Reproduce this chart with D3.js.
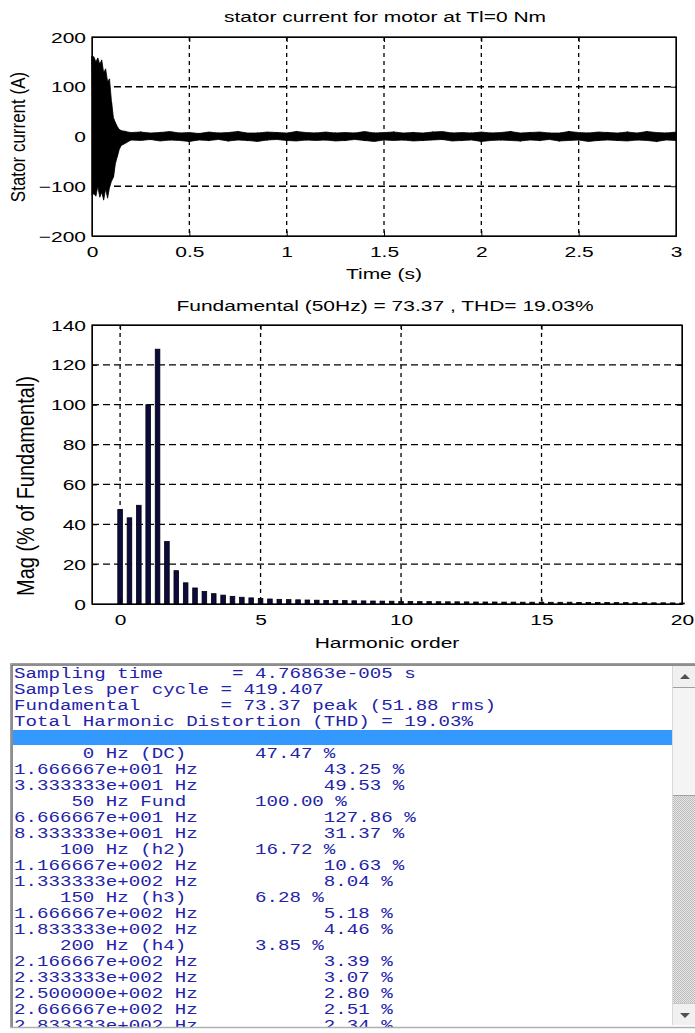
<!DOCTYPE html>
<html><head><meta charset="utf-8">
<script src="https://cdn.jsdelivr.net/npm/d3@7"></script>
<style>body{margin:0;background:#fff}svg{display:block}</style>
</head><body>
<svg id="c" width="695" height="1033"></svg>
<script>
// ---------------- DATA ----------------
const topTitle = "stator current for motor at Tl=0 Nm";
const topXLabel = "Time (s)";
const topYLabel = "Stator current (A)";
const timeTicks = [0, 0.5, 1, 1.5, 2, 2.5, 3];
const currentTicks = [-200, -100, 0, 100, 200];

// start-up transient envelope (s, A)
const transientTime  = [0, 0.01, 0.02, 0.03, 0.04, 0.05, 0.06, 0.07, 0.08, 0.09, 0.10, 0.11, 0.12, 0.13, 0.14, 0.15, 0.17];
const transientUpper = [162, 160, 150, 158, 145, 154, 128, 136, 110, 116, 70, 38, 28, 20, 14, 12, 10];
const transientLower = [-118, -115, -120, -100, -122, -112, -128, -105, -124, -102, -90, -82, -55, -40, -26, -18, -14];
// steady-state envelope, sampled every 0.05 s from 0.2 s
const steadyStart = 0.2, steadyStep = 0.05;
const steadyUpper = [8,9,7,8,10,7,8,6,9,7, 8,10,7,7,9,8,7,10,8,7, 9,7,8,7,10,7,8,9,7,8,
                     7,9,10,7,8,7,9,7,8,10, 7,8,9,7,7,10,8,7,9,8, 7,9,7,10,8,7,9];
const steadyLower = [-7,-8,-6,-9,-7,-8,-10,-7,-8,-6, -9,-7,-8,-10,-7,-6,-8,-9,-7,-8,
                     -7,-9,-8,-6,-8,-10,-7,-8,-7,-9, -8,-7,-6,-9,-8,-7,-10,-8,-7,-8,
                     -9,-7,-8,-6,-9,-8,-7,-10,-8,-7, -8,-9,-7,-8,-10,-7,-8];

const midTitle = "Fundamental (50Hz) = 73.37 , THD= 19.03%";
const midXLabel = "Harmonic order";
const midYLabel = "Mag (% of Fundamental)";
const orderTicks = [0, 5, 10, 15, 20];
const magTicks = [0, 20, 40, 60, 80, 100, 120, 140];
const harmonicStep = 1 / 3; // 16.67 Hz resolution / 50 Hz
const harmonicMag = [47.47, 43.25, 49.53, 100.00, 127.86, 31.37, 16.72, 10.63, 8.04, 6.28,
                     5.18, 4.46, 3.85, 3.39, 3.07, 2.80, 2.51, 2.34, 2.2, 2.1,
                     2.0, 1.9, 1.8, 1.75, 1.7, 1.6, 1.55, 1.5, 1.45, 1.4,
                     1.3, 1.25, 1.2, 1.2, 1.15, 1.1, 1.1, 1.05, 1.0, 1.0,
                     1.0, 0.95, 0.95, 0.9, 0.9, 0.9, 0.85, 0.85, 0.9, 0.8,
                     0.8, 0.8, 0.75, 0.7, 0.7, 0.65, 0.65, 0.6, 0.6, 0.55, 0.5];

const reportLines = [
  "Sampling time      = 4.76863e-005 s",
  "Samples per cycle = 419.407",
  "Fundamental       = 73.37 peak (51.88 rms)",
  "Total Harmonic Distortion (THD) = 19.03%",
  "",
  "      0 Hz (DC)      47.47 %",
  "1.666667e+001 Hz           43.25 %",
  "3.333333e+001 Hz           49.53 %",
  "     50 Hz Fund      100.00 %",
  "6.666667e+001 Hz           127.86 %",
  "8.333333e+001 Hz           31.37 %",
  "    100 Hz (h2)      16.72 %",
  "1.166667e+002 Hz           10.63 %",
  "1.333333e+002 Hz           8.04 %",
  "    150 Hz (h3)      6.28 %",
  "1.666667e+002 Hz           5.18 %",
  "1.833333e+002 Hz           4.46 %",
  "    200 Hz (h4)      3.85 %",
  "2.166667e+002 Hz           3.39 %",
  "2.333333e+002 Hz           3.07 %",
  "2.500000e+002 Hz           2.80 %",
  "2.666667e+002 Hz           2.51 %",
  "2.833333e+002 Hz           2.34 %"
];
const highlightLine = 4;

// ---------------- DRAW ----------------
const svg = d3.select("#c");
svg.append("rect").attr("width", 695).attr("height", 1033).attr("fill", "#fff");
const FONT = "'Liberation Sans', Arial, sans-serif";
const SX = 1.4;

function label(g, x, y, str, size, sx, anchor, rot) {
  return g.append("text")
    .attr("transform", `translate(${x},${y}) scale(${sx},1)` + (rot ? ` rotate(${rot})` : ""))
    .attr("text-anchor", anchor || "middle")
    .attr("font-family", FONT).attr("font-size", size).attr("fill", "#000")
    .text(str);
}

function panel(box, x, y, xTicks, yTicks) {
  const g = svg.append("g");
  const gridX = xTicks.filter(v => x(v) > box.l + 1 && x(v) < box.r - 1);
  const gridY = yTicks.filter(v => y(v) > box.t + 1 && y(v) < box.b - 1);
  g.selectAll(".gx").data(gridX).join("line")
    .attr("x1", d => x(d)).attr("x2", d => x(d)).attr("y1", box.t).attr("y2", box.b)
    .attr("stroke", "#000").attr("stroke-width", 1.3).attr("stroke-dasharray", "4,4");
  g.selectAll(".gy").data(gridY).join("line")
    .attr("x1", box.l).attr("x2", box.r).attr("y1", d => y(d)).attr("y2", d => y(d))
    .attr("stroke", "#000").attr("stroke-width", 1.3).attr("stroke-dasharray", "7,4");
  return g;
}

function axes(box, x, y, xTicks, yTicks, xFmt, yFmt) {
  const ax = svg.append("g").attr("transform", `translate(0,${box.b})`)
    .call(d3.axisBottom(x).tickValues(xTicks).tickSize(-5).tickSizeOuter(0).tickPadding(0).tickFormat(xFmt));
  ax.selectAll("text").attr("y", null).attr("dy", null)
    .attr("transform", "translate(0,21) scale(" + SX + ",1)")
    .attr("font-family", FONT).attr("font-size", 15).attr("fill", "#000");
  const ay = svg.append("g").attr("transform", `translate(${box.l},0)`)
    .call(d3.axisLeft(y).tickValues(yTicks).tickSize(-5).tickSizeOuter(0).tickPadding(0).tickFormat(yFmt));
  ay.selectAll("text").attr("x", null).attr("dy", null)
    .attr("transform", "translate(-6,5) scale(" + SX + ",1)")
    .attr("font-family", FONT).attr("font-size", 15).attr("fill", "#000");
  svg.append("g").attr("transform", `translate(0,${box.t})`)
    .call(d3.axisTop(x).tickValues(xTicks).tickSize(-5).tickSizeOuter(0).tickFormat(""));
  svg.append("g").attr("transform", `translate(${box.r},0)`)
    .call(d3.axisRight(y).tickValues(yTicks).tickSize(-5).tickSizeOuter(0).tickFormat(""));
  svg.append("rect").attr("x", box.l).attr("y", box.t).attr("width", box.r - box.l).attr("height", box.b - box.t)
    .attr("fill", "none").attr("stroke", "#000").attr("stroke-width", 1.3);
}

// ---- top chart ----
const b1 = {l: 92, r: 676, t: 37, b: 236};
const x1 = d3.scaleLinear().domain([0, 3]).range([b1.l, b1.r]);
const y1 = d3.scaleLinear().domain([-200, 200]).range([b1.b, b1.t]);
panel(b1, x1, y1, timeTicks, currentTicks);

const env = transientTime.map((t, i) => ({t, hi: transientUpper[i], lo: transientLower[i]}))
  .concat(steadyUpper.map((u, i) => ({t: steadyStart + i * steadyStep, hi: u, lo: steadyLower[i]})));
const area = d3.area().x(d => x1(d.t)).y0(d => y1(d.lo)).y1(d => y1(d.hi));
svg.append("path").datum(env).attr("d", area).attr("fill", "#000")
  .attr("stroke", "#000").attr("stroke-width", 0.8);
svg.append("path").datum(env)
  .attr("d", d3.line().x(d => x1(d.t)).y((d, i) => y1(i % 2 ? d.lo : d.hi)))
  .attr("fill", "none").attr("stroke", "#000").attr("stroke-width", 1.2);

axes(b1, x1, y1, timeTicks, currentTicks, d3.format("~g"), d3.format("d"));
label(svg, 385, 22, topTitle, 15, SX);
label(svg, 384, 279, topXLabel, 15, SX);
label(svg, 25, 137, topYLabel, 17, 1.2, "middle", -90);

// ---- middle chart ----
const b2 = {l: 92, r: 682, t: 325, b: 604};
const x2 = d3.scaleLinear().domain([-1, 20]).range([b2.l, b2.r]);
const y2 = d3.scaleLinear().domain([0, 140]).range([b2.b, b2.t]);
panel(b2, x2, y2, orderTicks, magTicks);
const barW = 4.6;
svg.append("g").selectAll("rect").data(harmonicMag).join("rect")
  .attr("x", (d, i) => x2(i * harmonicStep) - barW / 2)
  .attr("y", d => y2(d))
  .attr("width", barW)
  .attr("height", d => y2(0) - y2(d))
  .attr("fill", "#0b0b40").attr("stroke", "#000").attr("stroke-width", 0.8);
axes(b2, x2, y2, orderTicks, magTicks, d3.format("d"), d3.format("d"));
label(svg, 385, 311, midTitle, 15, SX);
label(svg, 387, 648, midXLabel, 15, SX);
label(svg, 34, 486, midYLabel, 20, 1.15, "middle", -90);

// ---- report listing ----
const P = {l: 10, t: 663, r: 695, b: 1027};
const rep = svg.append("g");
rep.append("rect").attr("x", P.l).attr("y", P.t).attr("width", P.r - P.l).attr("height", P.b - P.t).attr("fill", "#fff");
const defs = svg.append("defs");
const pat = defs.append("pattern").attr("id", "chk").attr("width", 2).attr("height", 2).attr("patternUnits", "userSpaceOnUse");
pat.append("rect").attr("width", 2).attr("height", 2).attr("fill", "#e6e6e6");
pat.append("rect").attr("width", 1).attr("height", 1).attr("fill", "#bcbcbc");
pat.append("rect").attr("x", 1).attr("y", 1).attr("width", 1).attr("height", 1).attr("fill", "#bcbcbc");
defs.append("clipPath").attr("id", "repclip").append("rect")
  .attr("x", 13).attr("y", 665).attr("width", 660).attr("height", 362);

const lineY = i => 673 + 16 * i;
rep.append("rect").attr("x", 13).attr("y", lineY(highlightLine) - 7).attr("width", 660).attr("height", 15)
  .attr("fill", "#3399ff");
const FS = 14.5, CW = 11.475;
const tg = rep.append("g").attr("clip-path", "url(#repclip)");
tg.selectAll("text").data(reportLines).join("text")
  .attr("transform", (d, i) => `translate(14,${lineY(i) + 5}) scale(${CW / (0.6 * FS)},1)`)
  .attr("font-family", "'Liberation Mono', 'Courier New', monospace")
  .attr("font-size", FS).attr("fill", "#2323a8")
  .attr("xml:space", "preserve").style("white-space", "pre")
  .text(d => d);

// scrollbar
const sb = rep.append("g");
sb.append("rect").attr("x", 673).attr("y", 665).attr("width", 22).attr("height", 360).attr("fill", "url(#chk)");
sb.append("rect").attr("x", 673).attr("y", 665).attr("width", 22).attr("height", 22).attr("fill", "#f0f0f0");
sb.append("rect").attr("x", 673).attr("y", 688).attr("width", 22).attr("height", 107).attr("fill", "#f4f4f4");
sb.append("line").attr("x1", 673).attr("x2", 695).attr("y1", 687.5).attr("y2", 687.5).attr("stroke", "#a0a0a0");
sb.append("line").attr("x1", 673).attr("x2", 695).attr("y1", 795.5).attr("y2", 795.5).attr("stroke", "#a0a0a0");
sb.append("rect").attr("x", 673).attr("y", 1004).attr("width", 22).attr("height", 21).attr("fill", "#f0f0f0");
sb.append("line").attr("x1", 673).attr("x2", 695).attr("y1", 1003.5).attr("y2", 1003.5).attr("stroke", "#c8c8c8");
sb.append("path").attr("d", "M680,679 L685,674 L690,679 Z").attr("fill", "#505050");
sb.append("path").attr("d", "M680,1013 L685,1018 L690,1013 Z").attr("fill", "#505050");
sb.append("line").attr("x1", 672.5).attr("x2", 672.5).attr("y1", 665).attr("y2", 1025).attr("stroke", "#d8d8d8");

rep.append("path").attr("d", `M${P.l + 0.5},${P.b} V${P.t + 0.5} H${P.r}`).attr("fill", "none").attr("stroke", "#a0a0a0").attr("stroke-width", 1);
rep.append("path").attr("d", `M${P.l + 2},${P.b} V${P.t + 2} H${P.r}`).attr("fill", "none").attr("stroke", "#696969").attr("stroke-width", 1.5);
rep.append("line").attr("x1", P.l).attr("x2", P.r).attr("y1", P.b + 0.5).attr("y2", P.b + 0.5).attr("stroke", "#b0b0b0").attr("stroke-width", 1.5);
</script>
</body></html>
